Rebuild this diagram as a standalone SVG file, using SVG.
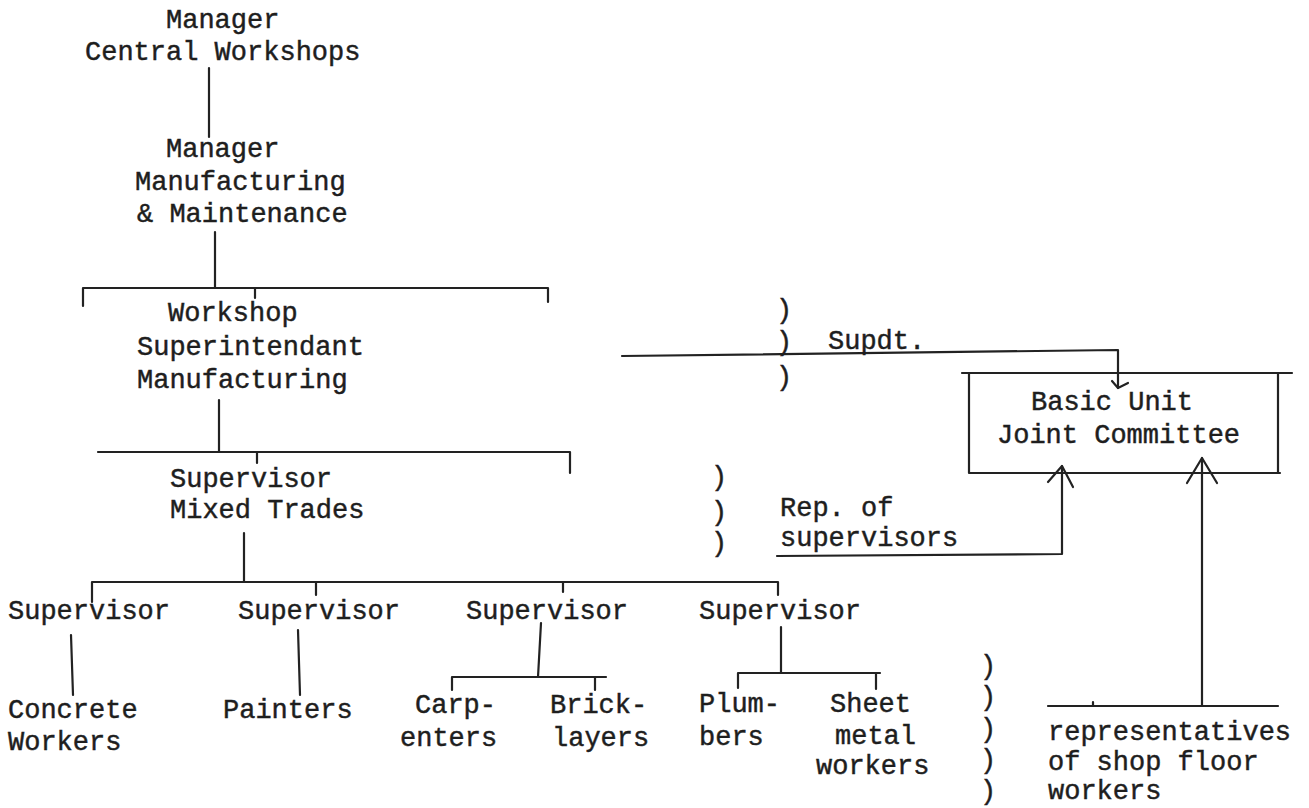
<svg xmlns="http://www.w3.org/2000/svg" width="1309" height="808" viewBox="0 0 1309 808">
<style>
text{font-family:"Liberation Mono","DejaVu Sans Mono",monospace;font-size:27px;fill:#1e1e1e;stroke:#1e1e1e;stroke-width:0.45}
.ln{stroke:#222;stroke-width:2.2;fill:none;stroke-linecap:round;stroke-linejoin:round}
</style>
<rect width="1309" height="808" fill="#fff"/>
<g id="connectors">
<path class="ln" d="M209 68V137"/>
<path class="ln" d="M215 232V288"/>
<path class="ln" d="M83 306V288H548V302M255 288V298"/>
<path class="ln" d="M219 400V452"/>
<path class="ln" d="M98 452H570V473M257 452V463"/>
<path class="ln" d="M244 533V582"/>
<path class="ln" d="M92 602V582H778V595M316 582V595M563 582V592"/>
<path class="ln" d="M71 635L73 695"/>
<path class="ln" d="M298 630L300 695"/>
<path class="ln" d="M541 623L538 677"/>
<path class="ln" d="M452 690V677H606M595 677V690"/>
<path class="ln" d="M781 627V673"/>
<path class="ln" d="M738 688V673H880M876 673V689"/>
<path class="ln" d="M622 356L1118 350V388"/>
<path class="ln" d="M1112 381L1118 388L1128 383"/>
<path class="ln" d="M777 556L1062 554V466"/>
<path class="ln" d="M1048 482L1062 466L1073 487"/>
<path class="ln" d="M1048 706H1278M1093 706V702"/>
<path class="ln" d="M1202 706V458"/>
<path class="ln" d="M1187 483L1202 458L1217 483"/>
</g>
<g id="n-manager-central"><text x="166" y="28">Manager</text><text x="85" y="60">Central Workshops</text></g>
<g id="n-manager-mm"><text x="166" y="157">Manager</text><text x="135" y="190">Manufacturing</text><text x="137" y="222">&amp; Maintenance</text></g>
<g id="n-workshop-supt"><text x="168" y="321">Workshop</text><text x="137" y="355">Superintendant</text><text x="137" y="388">Manufacturing</text></g>
<g id="n-supervisor-mixed"><text x="170" y="487">Supervisor</text><text x="170" y="518">Mixed Trades</text></g>
<g id="n-sup1"><text x="8" y="619">Supervisor</text></g>
<g id="n-sup2"><text x="238" y="619">Supervisor</text></g>
<g id="n-sup3"><text x="466" y="619">Supervisor</text></g>
<g id="n-sup4"><text x="699" y="619">Supervisor</text></g>
<g id="n-concrete"><text x="8" y="718">Concrete</text><text x="8" y="750">Workers</text></g>
<g id="n-painters"><text x="223" y="718">Painters</text></g>
<g id="n-carpenters"><text x="415" y="713">Carp-</text><text x="400" y="746">enters</text></g>
<g id="n-bricklayers"><text x="550" y="713">Brick-</text><text x="552" y="746">layers</text></g>
<g id="n-plumbers"><text x="699" y="712">Plum-</text><text x="699" y="745">bers</text></g>
<g id="n-sheetmetal"><text x="830" y="712">Sheet</text><text x="835" y="744">metal</text><text x="816" y="774">workers</text></g>
<g id="n-supdt"><text x="776" y="318">)</text><text x="776" y="350">)</text><text x="776" y="385">)</text><text x="828" y="349">Supdt.</text></g>
<g id="n-rep-sup"><text x="711" y="485">)</text><text x="711" y="520">)</text><text x="711" y="551">)</text><text x="780" y="516">Rep. of</text><text x="780" y="546">supervisors</text></g>
<g id="n-committee"><path class="ln" d="M962 373H1292M969 373V473H1280M1278 373V473"/><text x="1031" y="410">Basic Unit</text><text x="997" y="443">Joint Committee</text></g>
<g id="n-rep-floor"><text x="980" y="674">)</text><text x="980" y="705">)</text><text x="980" y="737">)</text><text x="980" y="768">)</text><text x="980" y="799">)</text><text x="1048" y="740">representatives</text><text x="1048" y="770">of shop floor</text><text x="1048" y="799">workers</text></g>
</svg>
